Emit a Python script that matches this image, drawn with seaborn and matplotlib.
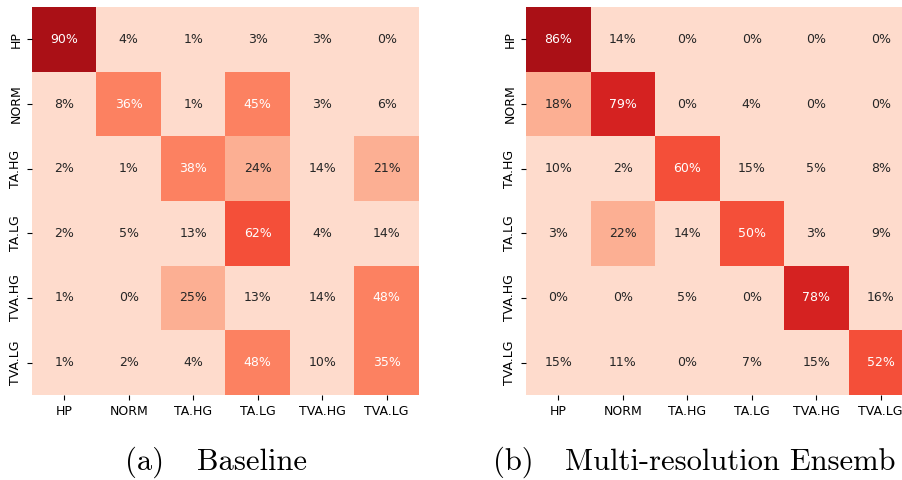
import numpy as np
import pandas as pd
import matplotlib
matplotlib.use("Agg")
import matplotlib.pyplot as plt
import seaborn as sns

# Class labels (rows = true, columns = predicted)
classes = ["HP", "NORM", "TA.HG", "TA.LG", "TVA.HG", "TVA.LG"]

# Row-normalised confusion matrices, in percent
baseline_pct = [
    [90, 4, 1, 3, 3, 0],
    [8, 36, 1, 45, 3, 6],
    [2, 1, 38, 24, 14, 21],
    [2, 5, 13, 62, 4, 14],
    [1, 0, 25, 13, 14, 48],
    [1, 2, 4, 48, 10, 35],
]
ensemble_pct = [
    [86, 14, 0, 0, 0, 0],
    [18, 79, 0, 4, 0, 0],
    [10, 2, 60, 15, 5, 8],
    [3, 22, 14, 50, 3, 9],
    [0, 0, 5, 0, 78, 16],
    [15, 11, 0, 7, 15, 52],
]

captions = [("(a)", "Baseline"), ("(b)", "Multi-resolution Ensemb")]

W, H = 902, 480
fig = plt.figure(figsize=(W / 100, H / 100), dpi=100)

# Discrete six-step red palette
cmap = sns.color_palette("Reds", 6)

panel_left = [32, 526]
panel_w, panel_h = 387, 388
panel_top = 7

for left, mat in zip(panel_left, [baseline_pct, ensemble_pct]):
    ax = fig.add_axes([left / W, 1 - (panel_top + panel_h) / H, panel_w / W, panel_h / H])
    df = pd.DataFrame(np.array(mat) / 100.0, index=classes, columns=classes)
    sns.heatmap(df, ax=ax, cmap=cmap, vmin=0, vmax=1, annot=True, fmt=".0%",
                cbar=False, annot_kws={"fontsize": 9})
    ax.tick_params(axis="both", labelsize=9)
    ax.set_yticklabels(classes, rotation=90, va="center")
    ax.set_xticklabels(classes, rotation=0)

# Sub-figure captions in a Computer Modern face
cap_font = dict(family="cmr10", fontsize=22, va="baseline", ha="left")
label_x = [(125, 197), (493, 565)]
for (tag, text), (xt, xl) in zip(captions, label_x):
    fig.text(xt / W, 1 - 470 / H, tag, **cap_font)
    fig.text(xl / W, 1 - 470 / H, text, **cap_font)

fig.savefig("out.png", dpi=100)
